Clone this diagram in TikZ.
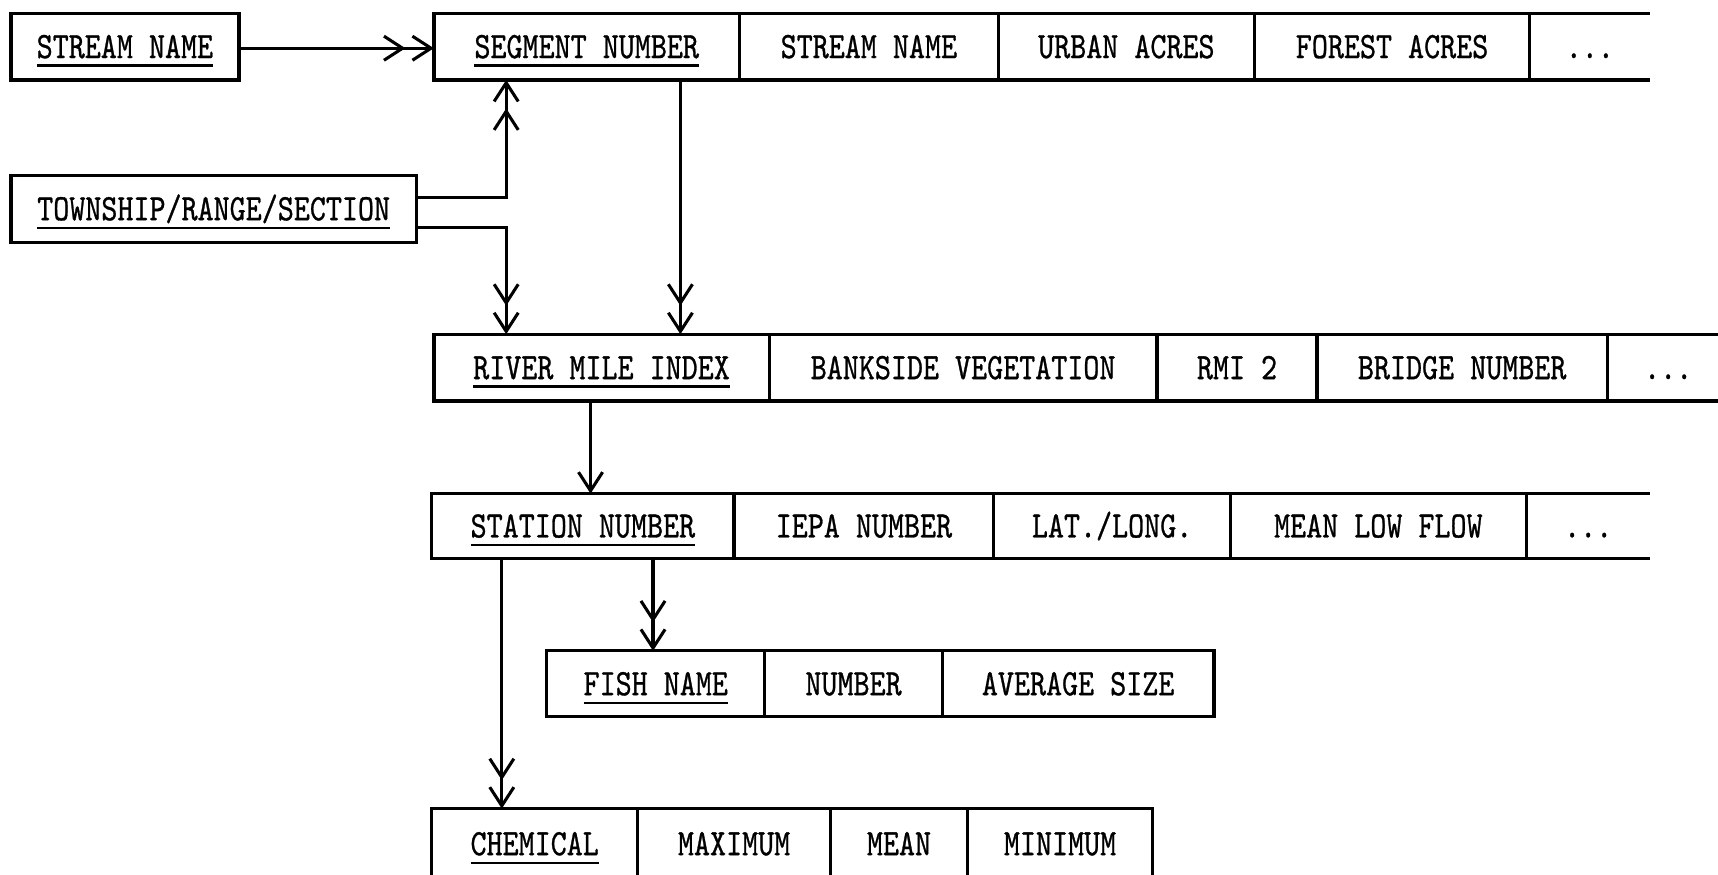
\documentclass[tikz,border=0pt]{standalone}
\usepackage{fontspec}
\usepackage{graphicx}
\usetikzlibrary{arrows.meta,positioning}
\newfontfamily\typewr{lmmono10-regular.otf}[FakeBold=0.9]
\newcommand{\fld}[1]{\scalebox{0.82}[1]{#1}}
\newcommand{\keyfld}[1]{\scalebox{0.82}[1]{\setbox0=\hbox{#1}\rlap{\rule[-8pt]{\wd0}{2.2pt}}\box0}}

\begin{document}
\begin{tikzpicture}[x=1pt, y=-1pt,
		cell/.style={draw, line width=3pt, inner sep=0pt, outer sep=0pt, minimum height=61pt, text height=21pt, text depth=0pt, font=\typewr\fontsize{34}{40}\selectfont},
		opencell/.style={cell, draw=none},
		onelink/.style={line width=2.8pt, -{Straight Barb[length=17pt,width=22pt]}},
		twolink/.style={line width=2.8pt, -{Straight Barb[length=17pt,width=22pt,sep=5pt]Straight Barb[length=17pt,width=22pt]}}]
		%%%%% START %%%%%
		
		\path[use as bounding box, clip] (0,0) rectangle (1568,798);
		
		\node[cell, minimum width=208pt] (sname) at (114,42.5) {\keyfld{STREAM NAME}};
		\node[cell, minimum width=370pt] (trs) at (195,190.5) {\keyfld{TOWNSHIP/RANGE/SECTION}};
		
		% segment record
		\node[cell, minimum width=279pt] (segnum) at (535.5,42.5) {\keyfld{SEGMENT NUMBER}};
		\node[cell, minimum width=236pt, right=0pt of segnum] (segname) {\fld{STREAM NAME}};
		\node[cell, minimum width=234pt, right=0pt of segname] (urban) {\fld{URBAN ACRES}};
		\node[cell, minimum width=251pt, right=0pt of urban] (forest) {\fld{FOREST ACRES}};
		\node[opencell, minimum width=110pt, right=0pt of forest] (segmore) {\fld{...}};
		\draw[line width=3pt] (segmore.north west) -- (segmore.north east) (segmore.south west) -- (segmore.south east);
		
		% river mile record
		\node[cell, minimum width=306pt] (rmi) at (549,335.5) {\keyfld{RIVER MILE INDEX}};
		\node[cell, minimum width=354pt, right=0pt of rmi] (bank) {\fld{BANKSIDE VEGETATION}};
		\node[cell, minimum width=146pt, right=0pt of bank] (rmitwo) {\fld{RMI 2}};
		\node[cell, minimum width=265pt, right=0pt of rmitwo] (bridge) {\fld{BRIDGE NUMBER}};
		\node[opencell, minimum width=111pt, right=0pt of bridge] (rmimore) {\fld{...}};
		\draw[line width=3pt] (rmimore.north west) -- (rmimore.north east) (rmimore.south west) -- (rmimore.south east);
		
		% station record
		\node[cell, minimum height=59pt, minimum width=276pt] (stnum) at (532,480) {\keyfld{STATION NUMBER}};
		\node[cell, minimum height=59pt, minimum width=237pt, right=0pt of stnum] (iepa) {\fld{IEPA NUMBER}};
		\node[cell, minimum height=59pt, minimum width=216pt, right=0pt of iepa] (latlong) {\fld{LAT./LONG.}};
		\node[cell, minimum height=59pt, minimum width=270pt, right=0pt of latlong] (lowflow) {\fld{MEAN LOW FLOW}};
		\node[opencell, minimum height=59pt, minimum width=113pt, right=0pt of lowflow] (stmore) {\fld{...}};
		\draw[line width=3pt] (stmore.north west) -- (stmore.north east) (stmore.south west) -- (stmore.south east);
		
		% fish record
		\node[cell, minimum height=60pt, minimum width=199pt] (fishname) at (598.5,624) {\keyfld{FISH NAME}};
		\node[cell, minimum height=60pt, minimum width=162pt, right=0pt of fishname] (fishcount) {\fld{NUMBER}};
		\node[cell, minimum height=60pt, minimum width=248pt, right=0pt of fishcount] (fishsize) {\fld{AVERAGE SIZE}};
		
		% chemical record
		\node[cell, minimum height=64pt, minimum width=188pt] (chem) at (488,770) {\keyfld{CHEMICAL}};
		\node[cell, minimum height=64pt, minimum width=176pt, right=0pt of chem] (chemmax) {\fld{MAXIMUM}};
		\node[cell, minimum height=64pt, minimum width=125pt, right=0pt of chemmax] (chemmean) {\fld{MEAN}};
		\node[cell, minimum height=64pt, minimum width=169pt, right=0pt of chemmean] (chemmin) {\fld{MINIMUM}};
		
		% links
		\coordinate (segdrop) at ([xshift=225pt]segnum.south west);
		\coordinate (rmidrop) at ([xshift=143pt]rmi.south west);
		\coordinate (fishin) at ([xshift=97pt]fishname.north west);
		\coordinate (chemin) at ([xshift=64pt]chem.north west);
		
		\draw[twolink] ([yshift=-1.5pt]sname.east) -- ([yshift=-1.5pt]sname.east -| segnum.west);
		\draw[twolink] ([yshift=10.5pt]trs.east) -| ([xshift=66pt]segnum.south west);
		\draw[twolink] ([yshift=-17.5pt]trs.east) -| ([xshift=66pt]rmi.north west);
		\draw[twolink] (segdrop) -- (segdrop |- rmi.north);
		\draw[onelink] (rmidrop) -- (rmidrop |- stnum.north);
		\draw[twolink] (fishin |- stnum.south) -- (fishin);
		\draw[twolink] (chemin |- stnum.south) -- (chemin);
		
		%%%%% END %%%%%
	\end{tikzpicture}
\end{document}
